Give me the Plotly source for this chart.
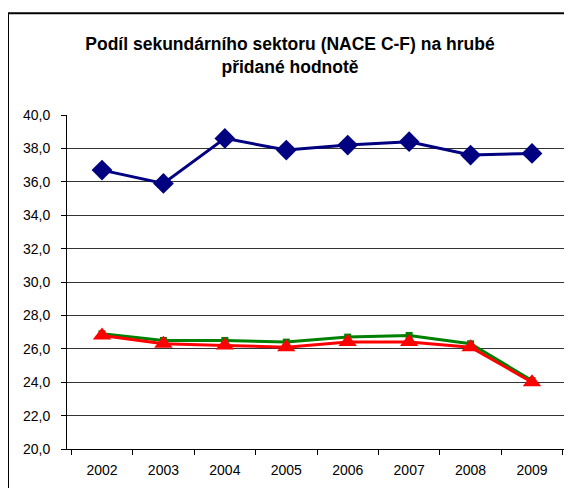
import plotly.graph_objects as go

years = ["2002", "2003", "2004", "2005", "2006", "2007", "2008", "2009"]
series_blue = [36.7, 35.9, 38.6, 37.9, 38.2, 38.4, 37.6, 37.7]
series_green = [26.9, 26.5, 26.5, 26.4, 26.7, 26.8, 26.3, 24.1]
series_red = [26.8, 26.3, 26.2, 26.1, 26.4, 26.4, 26.1, 24.0]
title_text = "<b>Podíl sekundárního sektoru (NACE C-F) na hrubé<br>přidané hodnotě</b>"

fig = go.Figure()
fig.add_trace(go.Scatter(
    x=years, y=series_blue, mode="lines+markers",
    line=dict(color="#000080", width=3),
    marker=dict(symbol="diamond", size=16, color="#000080"),
    cliponaxis=False,
))
fig.add_trace(go.Scatter(
    x=years, y=series_green, mode="lines+markers",
    line=dict(color="#008000", width=3),
    marker=dict(symbol="square", size=7, color="#008000"),
    cliponaxis=False,
))
fig.add_trace(go.Scatter(
    x=years, y=series_red, mode="lines+markers",
    line=dict(color="#FF0000", width=3),
    marker=dict(symbol="triangle-up", size=16, color="#FF0000"),
    cliponaxis=False,
))

fig.update_layout(
    width=572,
    height=488,
    # page body adds 8px offset, so margins compensate
    margin=dict(l=59, r=13, t=107, b=47),
    paper_bgcolor="white",
    plot_bgcolor="white",
    showlegend=False,
    separators=", ",
    font=dict(family="Liberation Sans, Arial, sans-serif", size=14, color="black"),
    title=dict(
        text=title_text,
        font=dict(family="Liberation Sans, Arial, sans-serif", size=17.5, color="black"),
        x=0.493, xanchor="center", xref="container",
        y=0.913, yanchor="middle",
    ),
    xaxis=dict(
        type="category",
        tickson="boundaries",
        ticks="outside",
        ticklen=5,
        tickcolor="black",
        ticklabelstandoff=8,
        showline=True,
        linecolor="black",
        linewidth=1,
        showgrid=False,
        mirror=False,
    ),
    yaxis=dict(
        range=[20, 40],
        dtick=2,
        tickformat=".1f",
        ticks="outside",
        ticklen=5,
        tickcolor="black",
        ticklabelstandoff=8,
        showline=True,
        linecolor="black",
        linewidth=1,
        showgrid=True,
        gridcolor="#333333",
        gridwidth=1,
        zeroline=False,
    ),
    shapes=[
        # right border of plot area
        dict(type="line", xref="paper", yref="paper", x0=1, x1=1, y0=0, y1=1,
             line=dict(color="#888888", width=2)),
        # outer chart frame
        dict(type="rect", xref="paper", yref="paper", x0=-0.118, x1=1.05,
             y0=-0.2, y1=1.305, line=dict(color="black", width=2)),
    ],
)

fig.write_html("out.html")
